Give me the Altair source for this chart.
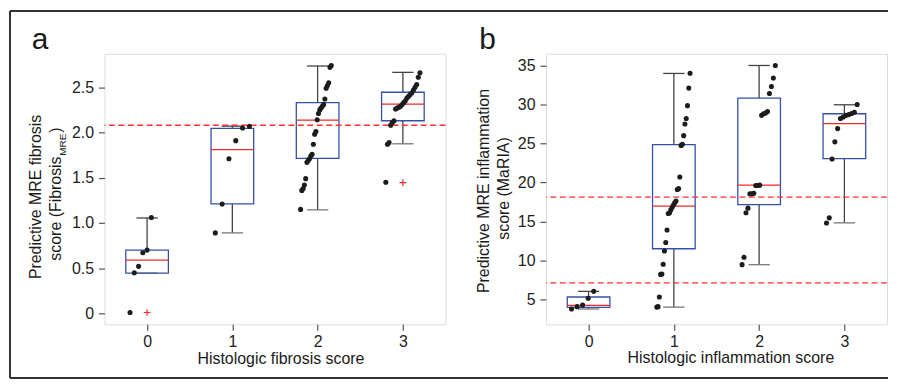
import altair as alt
import pandas as pd

FONT = "Liberation Sans"
GROUPS = [0, 1, 2, 3]

# ---------------- Panel a: fibrosis ----------------
A_G0 = [0.01, 0.45, 0.52, 0.67, 0.70, 1.06]
A_G1 = [0.89, 1.21, 1.71, 1.91, 2.05, 2.07]
A_G2 = [1.15, 1.36, 1.38, 1.42, 1.49, 1.67, 1.69, 1.71, 1.74, 1.76, 1.87, 1.98, 2.01,
        2.14, 2.21, 2.25, 2.27, 2.29, 2.31, 2.37, 2.49, 2.52, 2.55, 2.72, 2.74]
A_G3 = [1.45, 1.87, 1.89, 2.08, 2.11, 2.13, 2.26, 2.27, 2.28, 2.29, 2.31, 2.33, 2.35,
        2.38, 2.40, 2.42, 2.44, 2.47, 2.50, 2.53, 2.61, 2.66]
A_Q1 = [0.445, 1.21, 1.715, 2.13]
A_MED = [0.59, 1.81, 2.137, 2.313]
A_Q3 = [0.70, 2.045, 2.33, 2.445]
A_WLO = [0.445, 0.89, 1.145, 1.875]
A_WHI = [1.055, 2.07, 2.735, 2.665]
A_OUT_G = [0, 3]
A_OUT_V = [0.01, 1.445]
A_THRESH = [2.08]
A_JIT_START = [-0.2, -0.2, -0.2, -0.2]
A_JIT_END = [0.05, 0.20, 0.16, 0.20]
A_YTICKS = [0, 0.5, 1.0, 1.5, 2.0, 2.5]

# ---------------- Panel b: inflammation ----------------
B_G0 = [3.76, 4.06, 4.27, 5.13, 6.02]
B_G1 = [4.0, 4.06, 5.3, 8.2, 8.25, 9.5, 11.2, 12.3, 13.9, 16.0, 16.1, 16.5, 16.8, 17.1,
        17.4, 17.6, 19.1, 19.2, 20.7, 24.75, 24.9, 26.0, 27.5, 28.2, 29.85, 32.1, 34.0]
B_G2 = [9.45, 10.4, 16.1, 16.7, 18.55, 18.55, 18.6, 19.6, 19.6, 19.65, 28.6, 28.8, 28.9,
        29.1, 31.4, 32.3, 33.4, 35.0]
B_G3 = [14.8, 15.45, 23.0, 25.2, 26.9, 28.2, 28.4, 28.6, 28.7, 28.85, 29.0, 30.0]
B_Q1 = [3.98, 11.49, 17.16, 23.05]
B_MED = [4.23, 16.95, 19.64, 27.53]
B_Q3 = [5.30, 24.84, 30.82, 28.81]
B_WLO = [3.76, 4.0, 9.44, 14.81]
B_WHI = [6.02, 33.98, 35.0, 29.96]
B_THRESH = [7.1, 18.1]
B_JIT_START = [-0.2, -0.2, -0.2, -0.21]
B_JIT_END = [0.06, 0.19, 0.19, 0.15]
B_YTICKS = [5, 10, 15, 20, 25, 30, 35]

BLUE = "#3550a8"
RED = "#f02828"
WHISK = "#444444"
DOT = "#1c1c1c"


def points_df(groups, starts, ends):
    rows = []
    for g, vals in enumerate(groups):
        vs = sorted(vals)
        n = len(vs)
        for i, v in enumerate(vs):
            off = starts[g] + (ends[g] - starts[g]) * (i / (n - 1) if n > 1 else 0.5)
            rows.append({"g": g, "v": v, "xj": g + off})
    return pd.DataFrame(rows)


def stats_df(q1, med, q3, wlo, whi):
    return pd.DataFrame({
        "g": GROUPS, "q1": q1, "med": med, "q3": q3, "wlo": wlo, "whi": whi,
        "xl": [g - 0.25 for g in GROUPS], "xr": [g + 0.25 for g in GROUPS],
        "cl": [g - 0.125 for g in GROUPS], "cr": [g + 0.125 for g in GROUPS],
    })


def text_layer(t, x, y, size, angle=0, align="center", baseline="alphabetic"):
    kw = dict(fontSize=size, font=FONT, color="#1a1a1a", align=align, baseline=baseline)
    if angle:
        kw["angle"] = angle
    return alt.Chart(pd.DataFrame({"t": [t]})).mark_text(**kw).encode(
        x=alt.value(x), y=alt.value(y), text="t:N")


def panel(groups, q1, med, q3, wlo, whi, out_g, out_v, thresh, js, je, ydom, yticks,
          label_expr, extra):
    xs = alt.Scale(domain=[-0.5, 3.5], nice=False, zero=False)
    ys = alt.Scale(domain=ydom, nice=False, zero=False)
    xax = alt.Axis(values=GROUPS, format="d", grid=False, title=None, domain=False,
                   tickSize=6, tickColor="#555", tickWidth=1.2, labelFontSize=16,
                   labelFont=FONT, labelColor="#222", labelPadding=3)
    yax = alt.Axis(values=yticks, grid=False, title=None, domain=False,
                   tickSize=6, tickColor="#555", tickWidth=1.2, labelFontSize=16,
                   labelFont=FONT, labelColor="#222", labelPadding=5,
                   labelExpr=label_expr)
    st = alt.Chart(stats_df(q1, med, q3, wlo, whi))
    X = lambda f: alt.X(f, scale=xs, axis=xax)
    Y = lambda f: alt.Y(f, scale=ys, axis=yax)

    stem_hi = st.mark_rule(color=WHISK, strokeWidth=1.3).encode(x=X("g:Q"), y=Y("q3:Q"), y2="whi:Q")
    stem_lo = st.mark_rule(color=WHISK, strokeWidth=1.3).encode(x=X("g:Q"), y=Y("q1:Q"), y2="wlo:Q")
    cap_hi = st.mark_rule(color=WHISK, strokeWidth=1.3).encode(x=X("cl:Q"), x2="cr:Q", y=Y("whi:Q"))
    cap_lo = st.mark_rule(color="#777", strokeWidth=1.3).encode(x=X("cl:Q"), x2="cr:Q", y=Y("wlo:Q"))
    box = st.mark_rect(fillOpacity=0, stroke=BLUE, strokeWidth=1.3).encode(
        x=X("xl:Q"), x2="xr:Q", y=Y("q1:Q"), y2="q3:Q")
    medl = st.mark_rule(color=RED, strokeWidth=1.3).encode(x=X("xl:Q"), x2="xr:Q", y=Y("med:Q"))
    thr = alt.Chart(pd.DataFrame({"t": thresh})).mark_rule(
        color="#ff3030", strokeWidth=1.3, strokeDash=[6, 3.5]).encode(y=Y("t:Q"))
    pts = alt.Chart(points_df(groups, js, je)).mark_circle(size=26, color=DOT, opacity=1).encode(
        x=X("xj:Q"), y=Y("v:Q"))
    outs = alt.Chart(pd.DataFrame({"g": out_g, "v": out_v})).mark_point(
        shape="M-1,0H1M0,-1V1", size=45, stroke=RED, strokeWidth=1.2, filled=False,
        opacity=1).encode(x=X("g:Q"), y=Y("v:Q"))
    layers = [stem_hi, stem_lo, cap_hi, cap_lo, box, thr, medl, pts, outs] + extra
    return alt.layer(*layers).properties(width=343, height=272)


one = pd.DataFrame({"k": [0]})
frame = [
    alt.Chart(one).mark_rule(color="#333", strokeWidth=2).encode(
        x=alt.value(-95), y=alt.value(-43), y2=alt.value(326)),
    alt.Chart(one).mark_rule(color="#333", strokeWidth=2).encode(
        x=alt.value(-95), x2=alt.value(788), y=alt.value(-43)),
    alt.Chart(one).mark_rule(color="#333", strokeWidth=2).encode(
        x=alt.value(-95), x2=alt.value(788), y=alt.value(326)),
]

a_text = [
    text_layer("a", -73, -5, 30, align="left"),
    text_layer("Predictive MRE fibrosis", -63.5, 144, 16, angle=270),
    text_layer("score (Fibrosis", -43.4, 208, 16, angle=270, align="left"),
    text_layer("MRE", -39, 102.5, 10, angle=270, align="left"),
    text_layer(")", -43.4, 79.5, 16, angle=270, align="left"),
    text_layer("Histologic fibrosis score", 177.5, 312, 16),
]
b_text = [
    text_layer("b", -67, -5, 30, align="left"),
    text_layer("Predictive MRE inflammation", -57.5, 138, 16, angle=270),
    text_layer("score (MaRIA)", -37.5, 135.5, 16, angle=270),
    text_layer("Histologic inflammation score", 186, 310.7, 16),
]

pa = panel([A_G0, A_G1, A_G2, A_G3], A_Q1, A_MED, A_Q3, A_WLO, A_WHI, A_OUT_G, A_OUT_V,
           A_THRESH, A_JIT_START, A_JIT_END, [-0.12, 2.87], A_YTICKS,
           "datum.value == 0 ? '0' : format(datum.value, '.1f')", frame + a_text)
pb = panel([B_G0, B_G1, B_G2, B_G3], B_Q1, B_MED, B_Q3, B_WLO, B_WHI, [], [],
           B_THRESH, B_JIT_START, B_JIT_END, [1.8, 36.5], B_YTICKS,
           "format(datum.value, 'd')", b_text)

chart = alt.hconcat(pa, pb, spacing=101, bounds="flush").configure_view(
    stroke="#555", strokeWidth=1.5).configure(font=FONT).properties(
    padding={"left": 0, "top": 0, "right": 0, "bottom": 0},
    autosize=alt.AutoSizeParams(type="pad"))

chart.save("out.html", embed_options={"renderer": "svg", "actions": False})
